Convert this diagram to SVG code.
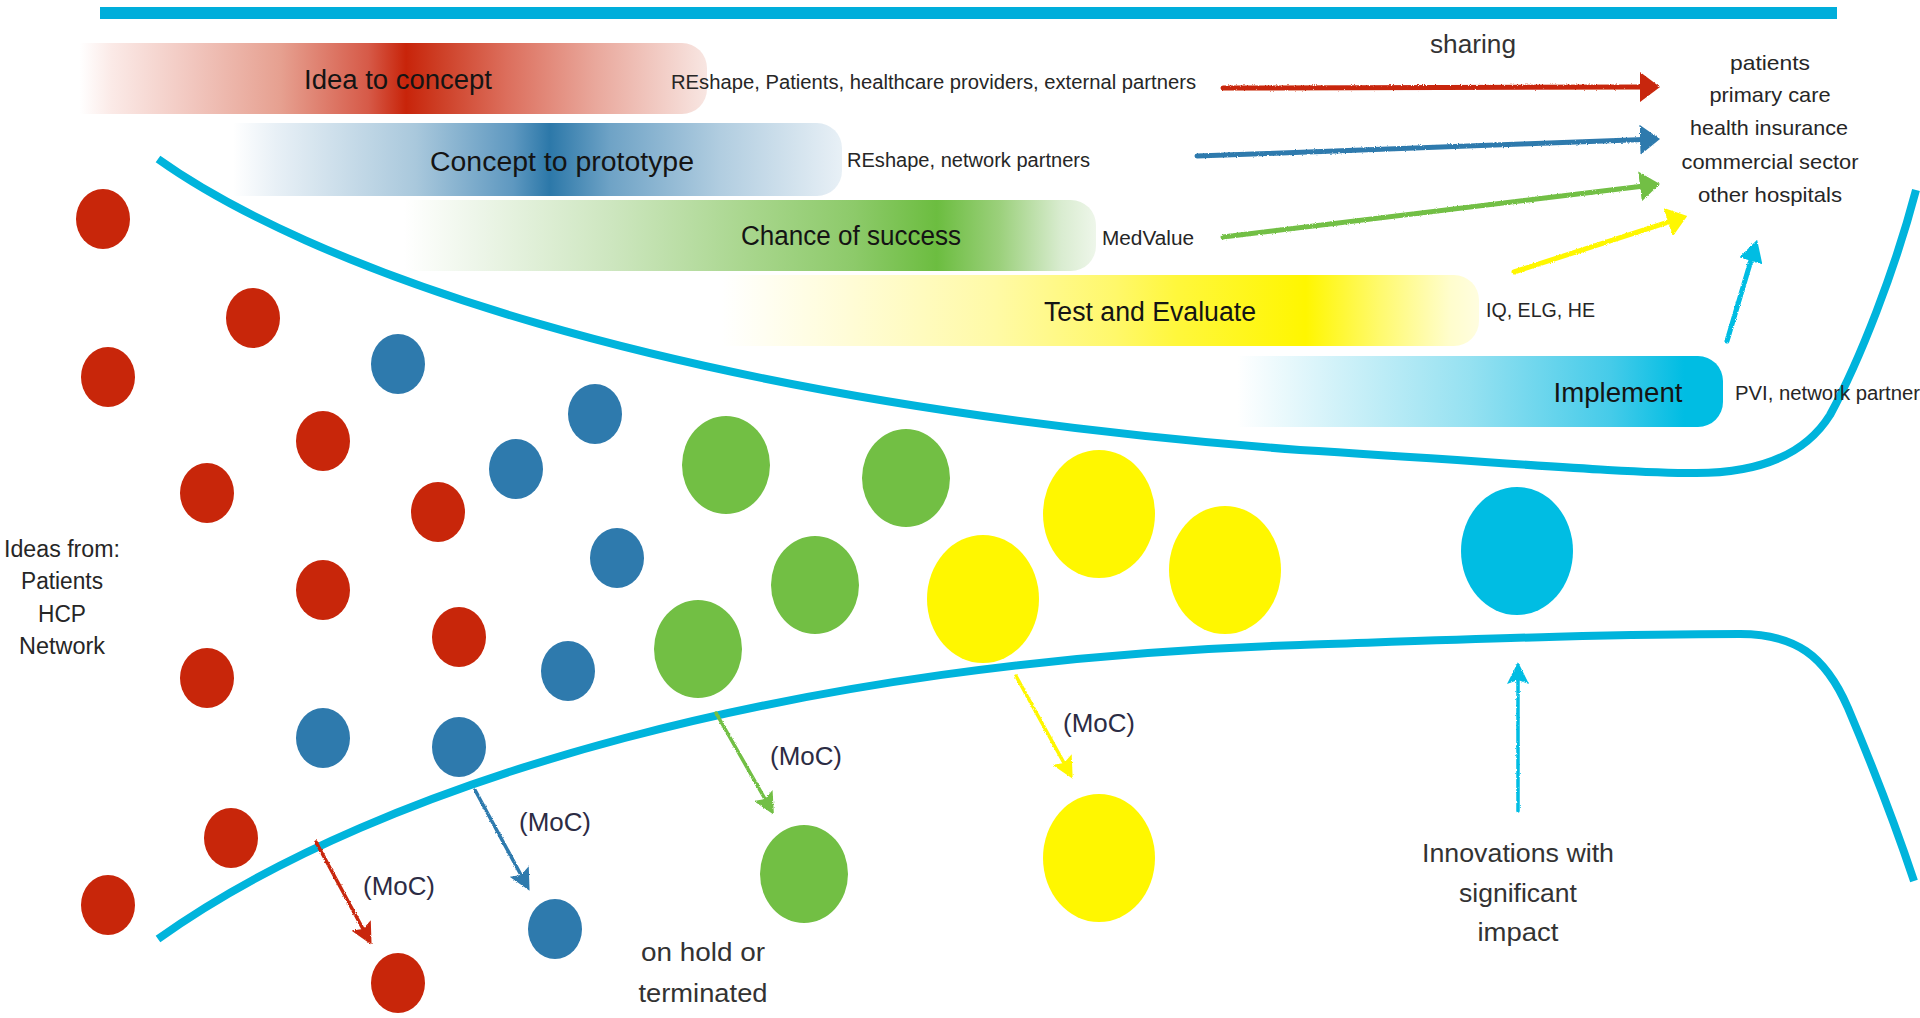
<svg xmlns="http://www.w3.org/2000/svg" width="1920" height="1018" viewBox="0 0 1920 1018">
<style>
  text { font-family: "Liberation Sans", Arial, sans-serif; }
  .title { font-size: 27px; fill: #141414; text-anchor: middle; }
  .lbl { font-size: 20px; fill: #262626; }
  .lst { font-size: 21px; fill: #262626; text-anchor: middle; }
  .side { font-size: 23px; fill: #262626; text-anchor: middle; }
  .moc { font-size: 25px; fill: #2c2c44; text-anchor: middle; }
  .note { font-size: 26px; fill: #333; text-anchor: middle; }
  .funnel { fill: none; stroke: #00b4dc; stroke-width: 8; stroke-linecap: butt; }
  .share { fill: none; stroke-width: 5; stroke-linecap: round; filter: url(#rough); }
  .mocarrow { fill: none; stroke-width: 3.5; stroke-linecap: round; filter: url(#rough); }
  .red { fill: #c8260a; }
  .blue { fill: #2e7aad; }
  .green { fill: #72bf44; }
  .yellow { fill: #fff700; }
  .cyan { fill: #00bde3; }
</style>
<defs>
  <filter id="rough" filterUnits="userSpaceOnUse" x="0" y="0" width="1920" height="1018">
    <feTurbulence type="fractalNoise" baseFrequency="0.9" numOctaves="2" seed="3" result="n"/>
    <feDisplacementMap in="SourceGraphic" in2="n" scale="2.5" xChannelSelector="R" yChannelSelector="G"/>
  </filter>
  <linearGradient id="gRed" x1="80" y1="0" x2="707" y2="0" gradientUnits="userSpaceOnUse">
    <stop offset="0" stop-color="#ffffff"/>
    <stop offset="0.05" stop-color="#fbeae7"/>
    <stop offset="0.18" stop-color="#f1c6be"/>
    <stop offset="0.32" stop-color="#e6a090"/>
    <stop offset="0.46" stop-color="#d65a48"/>
    <stop offset="0.52" stop-color="#c8240a"/>
    <stop offset="0.57" stop-color="#cd3d24"/>
    <stop offset="0.68" stop-color="#dc6e5c"/>
    <stop offset="0.82" stop-color="#e9a79b"/>
    <stop offset="1" stop-color="#f8e6e2"/>
  </linearGradient>
  <linearGradient id="gBlue" x1="233" y1="0" x2="842" y2="0" gradientUnits="userSpaceOnUse">
    <stop offset="0" stop-color="#ffffff"/>
    <stop offset="0.07" stop-color="#e8f0f6"/>
    <stop offset="0.3" stop-color="#a9c8dc"/>
    <stop offset="0.46" stop-color="#5e98c0"/>
    <stop offset="0.52" stop-color="#2c78a9"/>
    <stop offset="0.62" stop-color="#6fa3c6"/>
    <stop offset="0.8" stop-color="#b1cde0"/>
    <stop offset="1" stop-color="#e8f0f6"/>
  </linearGradient>
  <linearGradient id="gGreen" x1="404" y1="0" x2="1096" y2="0" gradientUnits="userSpaceOnUse">
    <stop offset="0" stop-color="#ffffff"/>
    <stop offset="0.1" stop-color="#eef6ea"/>
    <stop offset="0.3" stop-color="#cde6bf"/>
    <stop offset="0.51" stop-color="#a6d58a"/>
    <stop offset="0.65" stop-color="#8dca6a"/>
    <stop offset="0.77" stop-color="#6cbd40"/>
    <stop offset="0.86" stop-color="#9bd07b"/>
    <stop offset="0.95" stop-color="#d9ecd0"/>
    <stop offset="1" stop-color="#eef6ea"/>
  </linearGradient>
  <linearGradient id="gYellow" x1="722" y1="0" x2="1480" y2="0" gradientUnits="userSpaceOnUse">
    <stop offset="0" stop-color="#ffffff"/>
    <stop offset="0.17" stop-color="#fffcd6"/>
    <stop offset="0.36" stop-color="#fffaa6"/>
    <stop offset="0.52" stop-color="#fff86a"/>
    <stop offset="0.6" stop-color="#fff73c"/>
    <stop offset="0.77" stop-color="#fff600"/>
    <stop offset="0.87" stop-color="#fffa70"/>
    <stop offset="0.96" stop-color="#fffdcc"/>
    <stop offset="1" stop-color="#fffde0"/>
  </linearGradient>
  <linearGradient id="gCyan" x1="1237" y1="0" x2="1723" y2="0" gradientUnits="userSpaceOnUse">
    <stop offset="0" stop-color="#ffffff"/>
    <stop offset="0.2" stop-color="#d2f2f9"/>
    <stop offset="0.48" stop-color="#95e1f1"/>
    <stop offset="0.77" stop-color="#45cbe9"/>
    <stop offset="0.92" stop-color="#00bde3"/>
    <stop offset="1" stop-color="#00bde3"/>
  </linearGradient>
  <marker id="hRed" viewBox="0 0 20 30" refX="4" refY="15" markerWidth="20" markerHeight="30" markerUnits="userSpaceOnUse" orient="auto"><path d="M0,0 L20,15 L0,30 z" fill="#c8260a"/></marker>
  <marker id="hBlue" viewBox="0 0 20 30" refX="4" refY="15" markerWidth="20" markerHeight="30" markerUnits="userSpaceOnUse" orient="auto"><path d="M0,0 L20,15 L0,30 z" fill="#2e7aad"/></marker>
  <marker id="hGreen" viewBox="0 0 20 30" refX="4" refY="15" markerWidth="20" markerHeight="30" markerUnits="userSpaceOnUse" orient="auto"><path d="M0,0 L20,15 L0,30 z" fill="#72bf44"/></marker>
  <marker id="hYellow" viewBox="0 0 20 30" refX="4" refY="15" markerWidth="20" markerHeight="30" markerUnits="userSpaceOnUse" orient="auto"><path d="M0,0 L20,15 L0,30 z" fill="#fff700"/></marker>
  <marker id="hCyan" viewBox="0 0 22 24" refX="4" refY="12" markerWidth="22" markerHeight="24" markerUnits="userSpaceOnUse" orient="auto"><path d="M0,0 L22,12 L0,24 z" fill="#00bde3"/></marker>
  <marker id="mRed" viewBox="0 0 22 22" refX="4" refY="11" markerWidth="22" markerHeight="22" markerUnits="userSpaceOnUse" orient="auto"><path d="M0,0 L22,11 L0,22 L4,11 z" fill="#c8260a"/></marker>
  <marker id="mBlue" viewBox="0 0 22 22" refX="4" refY="11" markerWidth="22" markerHeight="22" markerUnits="userSpaceOnUse" orient="auto"><path d="M0,0 L22,11 L0,22 L4,11 z" fill="#2e7aad"/></marker>
  <marker id="mGreen" viewBox="0 0 22 22" refX="4" refY="11" markerWidth="22" markerHeight="22" markerUnits="userSpaceOnUse" orient="auto"><path d="M0,0 L22,11 L0,22 L4,11 z" fill="#72bf44"/></marker>
  <marker id="mYellow" viewBox="0 0 22 22" refX="4" refY="11" markerWidth="22" markerHeight="22" markerUnits="userSpaceOnUse" orient="auto"><path d="M0,0 L22,11 L0,22 L4,11 z" fill="#fff700"/></marker>
  <marker id="mCyan" viewBox="0 0 22 22" refX="4" refY="11" markerWidth="22" markerHeight="22" markerUnits="userSpaceOnUse" orient="auto"><path d="M0,0 L22,11 L0,22 L4,11 z" fill="#00bde3"/></marker>
</defs>

<rect width="1920" height="1018" fill="#ffffff"/>

<!-- top bar -->
<rect id="top-bar" x="100" y="7" width="1737" height="12" fill="#00aedb"/>

<!-- phase bars -->
<g id="bar-idea">
  <path d="M80,43 H682 A25,25 0 0 1 707,68 V89 A25,25 0 0 1 682,114 H80 Z" fill="url(#gRed)"/>
  <text class="title" x="398" y="89" textLength="188" lengthAdjust="spacingAndGlyphs">Idea to concept</text>
  <text class="lbl" x="671" y="89" textLength="525" lengthAdjust="spacingAndGlyphs">REshape, Patients, healthcare providers, external partners</text>
</g>
<g id="bar-concept">
  <path d="M233,123 H817 A25,25 0 0 1 842,148 V171 A25,25 0 0 1 817,196 H233 Z" fill="url(#gBlue)"/>
  <text class="title" x="562" y="171" textLength="264" lengthAdjust="spacingAndGlyphs">Concept to prototype</text>
  <text class="lbl" x="847" y="167" textLength="243" lengthAdjust="spacingAndGlyphs">REshape, network partners</text>
</g>
<g id="bar-chance">
  <path d="M404,200 H1071 A25,25 0 0 1 1096,225 V246 A25,25 0 0 1 1071,271 H404 Z" fill="url(#gGreen)"/>
  <text class="title" x="851" y="245" textLength="220" lengthAdjust="spacingAndGlyphs">Chance of success</text>
  <text class="lbl" x="1102" y="245" textLength="92" lengthAdjust="spacingAndGlyphs">MedValue</text>
</g>
<g id="bar-test">
  <path d="M722,275 H1454 A25,25 0 0 1 1479,300 V321 A25,25 0 0 1 1454,346 H722 Z" fill="url(#gYellow)"/>
  <text class="title" x="1150" y="321" textLength="212" lengthAdjust="spacingAndGlyphs">Test and Evaluate</text>
  <text class="lbl" x="1486" y="317" textLength="109" lengthAdjust="spacingAndGlyphs">IQ, ELG, HE</text>
</g>
<g id="bar-implement">
  <path d="M1237,356 H1698 A25,25 0 0 1 1723,381 V402 A25,25 0 0 1 1698,427 H1237 Z" fill="url(#gCyan)"/>
  <text class="title" x="1618" y="402" textLength="129" lengthAdjust="spacingAndGlyphs">Implement</text>
</g>

<!-- funnel -->
<g id="funnel">
  <path class="funnel" d="M158,159 C300,260 650,400 1300,450 C1500,462 1620,473 1696,473 C1760,473 1805,455 1830,415 C1860,360 1895,270 1916,190"/>
  <path class="funnel" d="M158,939 C380,780 800,660 1300,645 C1450,640 1600,634 1740,634 C1795,634 1825,655 1848,708 C1870,760 1892,815 1914,881"/>
</g>

<text class="lbl" x="1735" y="400" textLength="185" lengthAdjust="spacingAndGlyphs">PVI, network partner</text>

<!-- ideas -->
<g id="ideas-from">
  <text class="side" x="62" y="557" textLength="116" lengthAdjust="spacingAndGlyphs">Ideas from:</text>
  <text class="side" x="62" y="589" textLength="82" lengthAdjust="spacingAndGlyphs">Patients</text>
  <text class="side" x="62" y="622" textLength="48" lengthAdjust="spacingAndGlyphs">HCP</text>
  <text class="side" x="62" y="654" textLength="86" lengthAdjust="spacingAndGlyphs">Network</text>
</g>

<!-- red ideas -->
<g id="red-ideas">
  <ellipse class="red" cx="103" cy="219" rx="27" ry="30"/>
  <ellipse class="red" cx="253" cy="318" rx="27" ry="30"/>
  <ellipse class="red" cx="108" cy="377" rx="27" ry="30"/>
  <ellipse class="red" cx="323" cy="441" rx="27" ry="30"/>
  <ellipse class="red" cx="207" cy="493" rx="27" ry="30"/>
  <ellipse class="red" cx="438" cy="512" rx="27" ry="30"/>
  <ellipse class="red" cx="323" cy="590" rx="27" ry="30"/>
  <ellipse class="red" cx="459" cy="637" rx="27" ry="30"/>
  <ellipse class="red" cx="207" cy="678" rx="27" ry="30"/>
  <ellipse class="red" cx="231" cy="838" rx="27" ry="30"/>
  <ellipse class="red" cx="108" cy="905" rx="27" ry="30"/>
</g>
<g id="red-dropped"><ellipse class="red" cx="398" cy="983" rx="27" ry="30"/></g>

<g id="blue-concepts">
  <ellipse class="blue" cx="398" cy="364" rx="27" ry="30"/>
  <ellipse class="blue" cx="595" cy="414" rx="27" ry="30"/>
  <ellipse class="blue" cx="516" cy="469" rx="27" ry="30"/>
  <ellipse class="blue" cx="617" cy="558" rx="27" ry="30"/>
  <ellipse class="blue" cx="568" cy="671" rx="27" ry="30"/>
  <ellipse class="blue" cx="323" cy="738" rx="27" ry="30"/>
  <ellipse class="blue" cx="459" cy="747" rx="27" ry="30"/>
</g>
<g id="blue-dropped"><ellipse class="blue" cx="555" cy="929" rx="27" ry="30"/></g>

<g id="green-prototypes">
  <ellipse class="green" cx="726" cy="465" rx="44" ry="49"/>
  <ellipse class="green" cx="906" cy="478" rx="44" ry="49"/>
  <ellipse class="green" cx="815" cy="585" rx="44" ry="49"/>
  <ellipse class="green" cx="698" cy="649" rx="44" ry="49"/>
</g>
<g id="green-dropped"><ellipse class="green" cx="804" cy="874" rx="44" ry="49"/></g>

<g id="yellow-tests">
  <ellipse class="yellow" cx="1099" cy="514" rx="56" ry="64"/>
  <ellipse class="yellow" cx="983" cy="599" rx="56" ry="64"/>
  <ellipse class="yellow" cx="1225" cy="570" rx="56" ry="64"/>
</g>
<g id="yellow-dropped"><ellipse class="yellow" cx="1099" cy="858" rx="56" ry="64"/></g>

<g id="cyan-innovation"><ellipse class="cyan" cx="1517" cy="551" rx="56" ry="64"/></g>

<!-- connectors -->
<g id="connectors">
  <line class="share" stroke="#c8260a" x1="1223" y1="88" x2="1644" y2="87" marker-end="url(#hRed)"/>
  <line class="share" stroke="#2e7aad" x1="1197" y1="156" x2="1644" y2="139.6" marker-end="url(#hBlue)"/>
  <line class="share" stroke="#72bf44" x1="1223" y1="237" x2="1644" y2="185.9" marker-end="url(#hGreen)"/>
  <line class="share" stroke="#fff700" stroke-width="4.5" x1="1514" y1="272" x2="1672" y2="220.9" marker-end="url(#hYellow)"/>
  <line class="share" stroke="#00bde3" stroke-width="4" x1="1727" y1="341" x2="1752" y2="257" marker-end="url(#hCyan)"/>

  <line class="mocarrow" stroke="#c8260a" x1="316" y1="842" x2="363" y2="929" marker-end="url(#mRed)"/>
  <line class="mocarrow" stroke="#2e7aad" x1="475" y1="790" x2="521" y2="875" marker-end="url(#mBlue)"/>
  <line class="mocarrow" stroke="#72bf44" x1="716" y1="713" x2="765" y2="799" marker-end="url(#mGreen)"/>
  <line class="mocarrow" stroke="#fff700" x1="1016" y1="676" x2="1064" y2="763" marker-end="url(#mYellow)"/>
  <line class="mocarrow" stroke="#00bde3" x1="1518" y1="811" x2="1518" y2="680" marker-end="url(#mCyan)"/>
</g>

<!-- labels -->
<g id="sharing-targets">
  <text class="note" x="1473" y="53" font-size="24" textLength="86" lengthAdjust="spacingAndGlyphs">sharing</text>
  <text class="lst" x="1770" y="70" textLength="80" lengthAdjust="spacingAndGlyphs">patients</text>
  <text class="lst" x="1770" y="102" textLength="121" lengthAdjust="spacingAndGlyphs">primary care</text>
  <text class="lst" x="1769" y="135" textLength="158" lengthAdjust="spacingAndGlyphs">health insurance</text>
  <text class="lst" x="1770" y="169" textLength="177" lengthAdjust="spacingAndGlyphs">commercial sector</text>
  <text class="lst" x="1770" y="202" textLength="144" lengthAdjust="spacingAndGlyphs">other hospitals</text>
</g>
<g id="moc-labels">
  <text class="moc" x="399" y="895" textLength="72" lengthAdjust="spacingAndGlyphs">(MoC)</text>
  <text class="moc" x="555" y="831" textLength="72" lengthAdjust="spacingAndGlyphs">(MoC)</text>
  <text class="moc" x="806" y="765" textLength="72" lengthAdjust="spacingAndGlyphs">(MoC)</text>
  <text class="moc" x="1099" y="732" textLength="72" lengthAdjust="spacingAndGlyphs">(MoC)</text>
</g>
<g id="on-hold">
  <text class="note" x="703" y="961" textLength="124" lengthAdjust="spacingAndGlyphs">on hold or</text>
  <text class="note" x="703" y="1002" textLength="129" lengthAdjust="spacingAndGlyphs">terminated</text>
</g>
<g id="innovations">
  <text class="note" x="1518" y="862" textLength="192" lengthAdjust="spacingAndGlyphs">Innovations with</text>
  <text class="note" x="1518" y="902" textLength="118" lengthAdjust="spacingAndGlyphs">significant</text>
  <text class="note" x="1518" y="941" textLength="81" lengthAdjust="spacingAndGlyphs">impact</text>
</g>
</svg>
